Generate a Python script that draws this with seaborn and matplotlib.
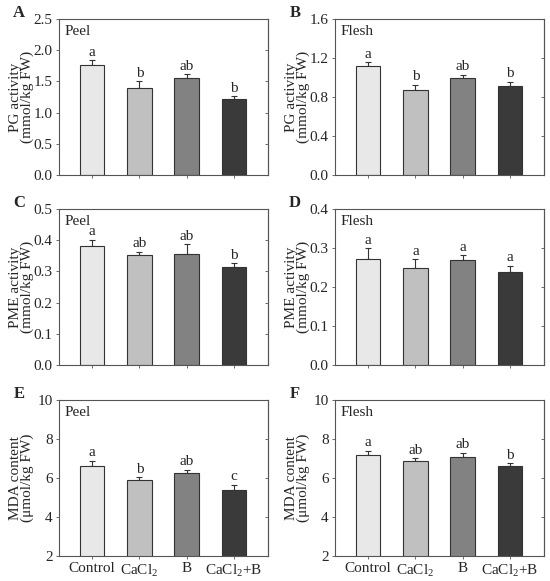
import numpy as np
import pandas as pd
import matplotlib
matplotlib.use("Agg")
import matplotlib.pyplot as plt
import seaborn as sns

treatments = ["Control", "CaCl$_\\mathregular{2}$", "B", "CaCl$_\\mathregular{2}$+B"]
bar_colors = ["#e8e8e8", "#c0c0c0", "#828282", "#3a3a3a"]

pg_peel = [1.76, 1.40, 1.55, 1.22]
pg_peel_err = [0.08, 0.10, 0.065, 0.04]
pg_peel_sig = ["a", "b", "ab", "b"]

pg_flesh = [1.12, 0.87, 0.99, 0.915]
pg_flesh_err = [0.035, 0.055, 0.04, 0.04]
pg_flesh_sig = ["a", "b", "ab", "b"]

pme_peel = [0.380, 0.353, 0.357, 0.315]
pme_peel_err = [0.022, 0.009, 0.030, 0.011]
pme_peel_sig = ["a", "ab", "ab", "b"]

pme_flesh = [0.272, 0.250, 0.269, 0.239]
pme_flesh_err = [0.027, 0.021, 0.012, 0.016]
pme_flesh_sig = ["a", "a", "a", "a"]

mda_peel = [6.64, 5.90, 6.25, 5.38]
mda_peel_err = [0.24, 0.14, 0.17, 0.26]
mda_peel_sig = ["a", "b", "ab", "c"]

mda_flesh = [7.20, 6.85, 7.08, 6.63]
mda_flesh_err = [0.19, 0.17, 0.21, 0.12]
mda_flesh_sig = ["a", "ab", "ab", "b"]

sns.set_style("ticks")
plt.rcParams["font.family"] = ["Liberation Serif", "DejaVu Serif"]
plt.rcParams["mathtext.fontset"] = "custom"
plt.rcParams["mathtext.rm"] = "Liberation Serif"
fs = 11

fig = plt.figure(figsize=(5.5, 5.81), dpi=100)

panels = [
    ("A", "Peel", pg_peel, pg_peel_err, pg_peel_sig, "PG activity\n(mmol/kg FW)", (0, 2.5), [0, 0.5, 1.0, 1.5, 2.0, 2.5], "{:.1f}"),
    ("B", "Flesh", pg_flesh, pg_flesh_err, pg_flesh_sig, "PG activity\n(mmol/kg FW)", (0, 1.6), [0, 0.4, 0.8, 1.2, 1.6], "{:.1f}"),
    ("C", "Peel", pme_peel, pme_peel_err, pme_peel_sig, "PME activity\n(mmol/kg FW)", (0, 0.5), [0, 0.1, 0.2, 0.3, 0.4, 0.5], "{:.1f}"),
    ("D", "Flesh", pme_flesh, pme_flesh_err, pme_flesh_sig, "PME activity\n(mmol/kg FW)", (0, 0.4), [0, 0.1, 0.2, 0.3, 0.4], "{:.1f}"),
    ("E", "Peel", mda_peel, mda_peel_err, mda_peel_sig, "MDA content\n(μmol/kg FW)", (2, 10), [2, 4, 6, 8, 10], "{:.0f}"),
    ("F", "Flesh", mda_flesh, mda_flesh_err, mda_flesh_sig, "MDA content\n(μmol/kg FW)", (2, 10), [2, 4, 6, 8, 10], "{:.0f}"),
]

lefts = [59, 335]
tops = [19, 209, 400]
W, H = 550, 581
aw, ah = 209, 156

for i, (letter, part, vals, errs, sigs, ylab, ylim, yt, fmt) in enumerate(panels):
    col, row = i % 2, i // 2
    x0 = lefts[col]
    y0 = tops[row]
    ax = fig.add_axes([x0 / W, 1 - (y0 + ah) / H, aw / W, ah / H])
    df = pd.DataFrame({"trt": treatments, "val": vals})
    sns.barplot(data=df, x="trt", y="val", hue="trt", palette=bar_colors,
                width=0.52, edgecolor="#333333", linewidth=0.8, legend=False,
                errorbar=None, ax=ax, zorder=2)
    xs = np.arange(len(vals))
    ax.errorbar(xs, vals, yerr=[np.zeros(len(errs)), errs], fmt="none",
                ecolor="#333333", elinewidth=0.8, capsize=2.5, capthick=0.8, zorder=1)
    span = ylim[1] - ylim[0]
    for xi, v, e, s in zip(xs, vals, errs, sigs):
        ax.text(xi, v + e + span * 0.01, s, ha="center", va="bottom", fontsize=fs)
    ax.set_xlim(-0.7, 3.72)
    ax.set_ylim(*ylim)
    ax.set_yticks(yt)
    ax.set_yticklabels([fmt.format(t) for t in yt], fontsize=fs)
    ax.set_xlabel("")
    ax.set_ylabel(ylab, fontsize=fs, linespacing=0.8)
    ax.yaxis.set_label_coords(-0.122, 0.5)
    ax.set_xticks(xs)
    if row == 2:
        ax.set_xticklabels(treatments, fontsize=fs)
    else:
        ax.set_xticklabels([])
    for sp in ax.spines.values():
        sp.set_visible(True)
        sp.set_color("#555555")
        sp.set_linewidth(0.8)
    ax.tick_params(axis="both", direction="out", length=2.5, width=0.6,
                   color="#555555", pad=2)
    sec = ax.secondary_yaxis("right")
    sec.set_yticks(yt)
    sec.set_yticklabels([])
    sec.tick_params(direction="in", length=2.5, width=0.6, color="#555555")
    sec.spines["right"].set_color("#555555")
    sec.spines["right"].set_linewidth(0.8)
    ax.text(0.028, 0.92, part, transform=ax.transAxes, ha="left", va="center", fontsize=fs)
    fig.text((x0 - 40) / W, 1 - (y0 - 6) / H, letter, fontsize=fs + 1, fontweight="bold",
             ha="center", va="center")

fig.savefig("out.png", dpi=100)
